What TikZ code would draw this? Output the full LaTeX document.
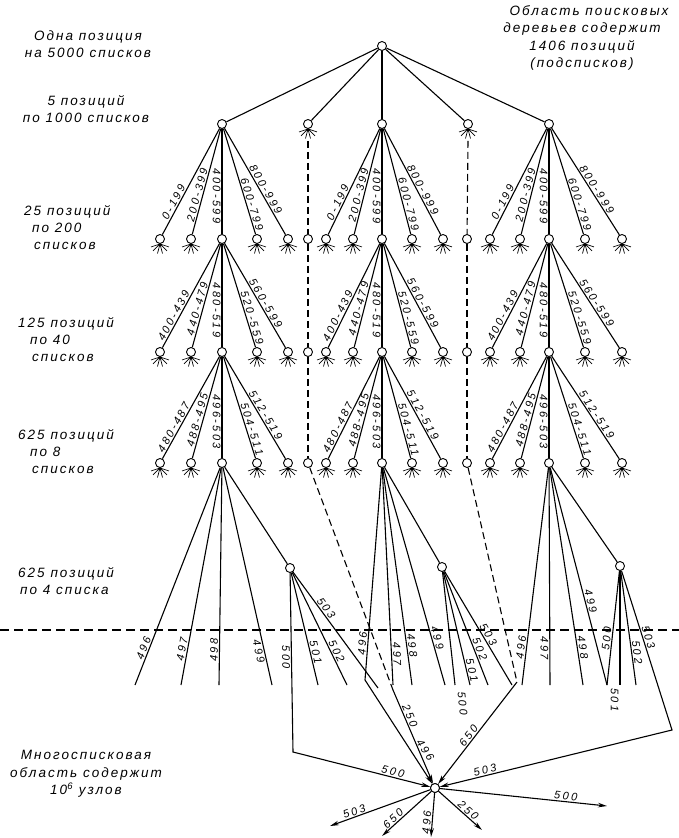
\documentclass[tikz,border=0pt]{standalone}
\usepackage{fontspec}
\setmainfont{Liberation Sans}[LetterSpace=15]
\newfontfamily\lblfont{Liberation Sans}[LetterSpace=22]
\usetikzlibrary{arrows.meta,calc}
\tikzset{
  roots/.pic={\draw[line width=0.7pt]
    (0,0) -- (-9,3) (0,0) -- (-7,7) (0,0) -- (-2.5,9.5) (0,0) -- (2.5,9.5) (0,0) -- (7,7) (0,0) -- (9,3);},
}
\begin{document}
\begin{tikzpicture}[x=1pt,y=-1pt,
  nd/.style={circle,draw,line width=0.9pt,fill=white,minimum size=9pt,inner sep=0pt},
  ed/.style={line width=1.1pt},
  dsh/.style={line width=1.1pt,dash pattern=on 7pt off 4pt},
  lbl/.style={font=\lblfont\fontsize{11}{11}\selectfont\itshape,inner sep=1pt,sloped},
  side/.style={font=\fontsize{13.5}{17.5}\selectfont\itshape,align=center,inner sep=0pt},
  sidel/.style={font=\fontsize{13.5}{17}\selectfont\itshape,align=left,inner sep=0pt,anchor=west},
  arr/.style={line width=1.1pt,-{Stealth[length=9pt,width=4.5pt]}},
]
\useasboundingbox (0,0) rectangle (679,838);

% side texts
\node[side] (t1) at (88,44) {Одна позиция\\на 5000 списков};
\node[side] (t2) at (86,109) {5 позиций\\по 1000 списков};
\node[sidel] (t3) at (24,228) {25 позиций\\\hspace*{8pt}по 200\\\hspace*{10pt}списков};
\node[sidel] (t4) at (18,340) {125 позиций\\\hspace*{12pt}по 40\\\hspace*{14pt}списков};
\node[sidel] (t5) at (18,452) {625 позиций\\\hspace*{12pt}по 8\\\hspace*{14pt}списков};
\node[sidel] (t6) at (18,581) {625 позиций\\\hspace*{2pt}по 4 списка};
\node[side] (t7) at (86,774) {Многосписковая\\область содержит\\10\textsuperscript{6} узлов};
\node[side] (t8) at (582,38) {\hspace*{14pt}Область поисковых\\деревьев содержит\\1406 позиций\\(подсписков)};

% root and level 1
\node[nd] (R) at (382,46) {};
\node[nd] (A1-3) at (222,124) {};
\node[nd] (S1a) at (308,124) {};
\node[nd] (B1-3) at (382,124) {};
\node[nd] (S1b) at (468,124) {};
\node[nd] (C1-3) at (549,124) {};
\pic at (S1a.south) {roots};
\pic at (S1b.south) {roots};
\foreach \n in {A1-3,S1a,B1-3,S1b,C1-3} \draw[ed] (R) -- (\n);

% dashed chains
\node[nd] (S2a) at (308,239) {};
\node[nd] (S3a) at (308,352) {};
\node[nd] (S4a) at (308,463) {};
\node[nd] (S2b) at (467,239) {};
\node[nd] (S3b) at (467,352) {};
\node[nd] (S4b) at (467,463) {};
\draw[dsh] ([yshift=-12pt]S1a.south) -- (S2a);
\draw[dsh] (S2a) -- (S3a);
\draw[dsh] (S3a) -- (S4a);
\draw[dsh] ([yshift=-12pt]S1b.south) -- (S2b);
\draw[dsh] (S2b) -- (S3b);
\draw[dsh] (S3b) -- (S4b);

% three subtrees, levels 2-4
\foreach \g/\cx/\oa/\ob/\oc/\od in {A/222/-62/-31/35/66, B/382/-56/-29/30/61, C/549/-59/-29/36/73}{
  \foreach \lev/\prev/\y/\la/\lb/\lc/\ld/\le in {
      2/1/239/0-199/200-399/400-599/600-799/800-999,
      3/2/352/400-439/440-479/480-519/520-559/560-599,
      4/3/463/480-487/488-495/496-503/504-511/512-519}{
    \node[nd] (\g\lev-1) at ({\cx+\oa},\y) {};
    \node[nd] (\g\lev-2) at ({\cx+\ob},\y) {};
    \node[nd] (\g\lev-3) at (\cx,\y) {};
    \node[nd] (\g\lev-4) at ({\cx+\oc},\y) {};
    \node[nd] (\g\lev-5) at ({\cx+\od},\y) {};
    \pic at (\g\lev-1.south) {roots};
    \pic at (\g\lev-2.south) {roots};
    \pic at (\g\lev-4.south) {roots};
    \pic at (\g\lev-5.south) {roots};
    \draw[ed] (\g\prev-3) -- node[lbl,pos=0.72,above]{\la} (\g\lev-1);
    \draw[ed] (\g\prev-3) -- node[lbl,pos=0.64,above]{\lb} (\g\lev-2);
    \draw[ed] (\g\prev-3) -- node[lbl,pos=0.64,below]{\lc} (\g\lev-3);
    \draw[ed] (\g\prev-3) -- node[lbl,pos=0.73,above]{\ld} (\g\lev-4);
    \draw[ed] (\g\prev-3) -- node[lbl,pos=0.6,above]{\le} (\g\lev-5);
  }
}

% level 5 (lists of 4)
\node[nd] (A5) at (290,568) {};
\node[nd] (B5) at (442,567) {};
\node[nd] (C5) at (620,566) {};
\node[nd] (N) at (435,788) {};

\coordinate (a496) at (135,685);
\coordinate (a497) at (181,685);
\coordinate (a498) at (219,685);
\coordinate (a499) at (272,685);
\coordinate (a501) at (318,685);
\coordinate (a502) at (347,685);
\coordinate (a503) at (378,688);
\coordinate (t500) at (293,752);
\coordinate (b496) at (365,680);
\coordinate (b497) at (393,685);
\coordinate (b498) at (412,685);
\coordinate (b499) at (445,685);
\coordinate (b500) at (455,685);
\coordinate (b501) at (470,685);
\coordinate (b502) at (488,685);
\coordinate (b503) at (512,685);
\coordinate (c496) at (522,685);
\coordinate (c497) at (550,685);
\coordinate (c498) at (583,685);
\coordinate (c499) at (607,685);
\coordinate (c501) at (620,685);
\coordinate (c502) at (636,685);
\coordinate (t503) at (672,730);
\coordinate (d1) at (393,690);
\coordinate (d2) at (517,682);

% dashed horizontal boundary
\coordinate (hl) at (0,630);
\coordinate (hr) at (679,630);
\draw[line width=1.1pt,dash pattern=on 9pt off 5pt] (hl) -- (hr);

% left group
\draw[ed] (A4-3) -- node[lbl,pos=0.84,above]{496} (a496);
\draw[ed] (A4-3) -- node[lbl,pos=0.84,above]{497} (a497);
\draw[ed] (A4-3) -- node[lbl,pos=0.84,above]{498} (a498);
\draw[ed] (A4-3) -- node[lbl,pos=0.84,below]{499} (a499);
\draw[ed] (A4-3) -- (A5);
\draw[arr] (A5) -- node[lbl,pos=0.47,below]{500} (t500) -- node[lbl,pos=0.72,above]{500} (N);
\draw[ed] (A5) -- node[lbl,pos=0.72,above]{501} (a501);
\draw[ed] (A5) -- node[lbl,pos=0.72,above]{502} (a502);
\draw[ed] (A5) -- node[lbl,pos=0.34,above]{503} (a503);

% center group
\draw[arr] (B4-3) -- node[lbl,pos=0.83,above]{496} (b496) -- node[lbl,pos=0.74,above=7pt]{496} (N);
\draw[ed] (B4-3) -- node[lbl,pos=0.86,above]{497} (b497);
\draw[ed] (B4-3) -- node[lbl,pos=0.82,above]{498} (b498);
\draw[ed] (B4-3) -- node[lbl,pos=0.79,above]{499} (b499);
\draw[ed] (B4-3) -- (B5);
\draw[ed] (B5) -- node[lbl,pos=1.17,above]{500} (b500);
\draw[ed] (B5) -- node[lbl,pos=0.88,above]{501} (b501);
\draw[ed] (B5) -- node[lbl,pos=0.7,above]{502} (b502);
\draw[ed] (B5) -- node[lbl,pos=0.58,above]{503} (b503);

% right group
\draw[ed] (C4-3) -- node[lbl,pos=0.83,above]{496} (c496);
\draw[ed] (C4-3) -- node[lbl,pos=0.83,below]{497} (c497);
\draw[ed] (C4-3) -- node[lbl,pos=0.83,above]{498} (c498);
\draw[ed] (C4-3) -- node[lbl,pos=0.62,above]{499} (c499);
\draw[ed] (C4-3) -- (C5);
\draw[ed] (C5) -- node[lbl,pos=0.6,above]{500} (c499);
\draw[ed] (C5) -- node[lbl,pos=1.13,below]{501} (c501);
\draw[ed] (C5) -- node[lbl,pos=0.72,above]{502} (c502);
\draw[arr] (C5) -- node[lbl,pos=0.43,above]{503} (t503) -- node[lbl,pos=0.8,above]{503} (N);

% dashed descents to the multilist node
\draw[dsh] (S4a) -- (d1);
\draw[arr] (d1) -- node[lbl,pos=0.3,above]{250} (N);
\draw[dsh] (S4b) -- (d2);
\draw[arr] (d2) -- node[lbl,pos=0.56,above]{650} (N);

% outgoing arrows
\coordinate (o503) at (330,826);
\coordinate (o650) at (382,836);
\coordinate (o496) at (431,837);
\coordinate (o250) at (482,830);
\coordinate (o500) at (607,806);
\draw[arr] (N) -- node[lbl,pos=0.74,above]{503} (o503);
\draw[arr] (N) -- node[lbl,pos=0.7,above]{650} (o650);
\draw[arr] (N) -- node[lbl,pos=0.68,above]{496} (o496);
\draw[arr] (N) -- node[lbl,pos=0.6,above]{250} (o250);
\draw[arr] (N) -- node[lbl,pos=0.75,above]{500} (o500);
\node[nd] at (N) {};
\end{tikzpicture}
\end{document}
